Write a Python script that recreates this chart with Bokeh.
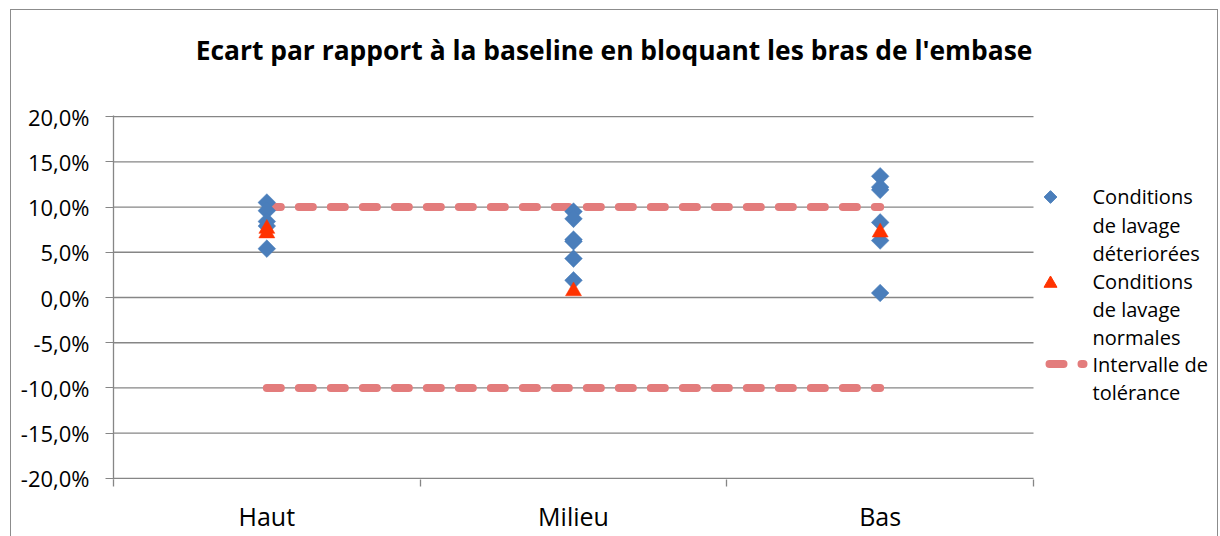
from bokeh.plotting import figure
from bokeh.layouts import column
from bokeh.models import Range1d, FixedTicker, ColumnDataSource, Div
from bokeh.core.properties import value
from bokeh.embed import file_html
from bokeh.resources import INLINE

# ---------------- data ----------------
categories = ["Haut", "Milieu", "Bas"]

deteriorees_cat = ["Haut"] * 5 + ["Milieu"] * 6 + ["Bas"] * 6
deteriorees_val = [10.5, 9.6, 8.4, 7.9, 5.4,
                   9.5, 8.7, 6.4, 6.2, 4.3, 1.9,
                   13.4, 12.2, 11.9, 8.3, 6.3, 0.5]

normales_cat = ["Haut", "Haut", "Milieu", "Bas"]
normales_val = [7.6, 7.1, 0.7, 7.2]

tolerance_cat = ["Haut", "Bas"]
tolerance_haute = [10.0, 10.0]
tolerance_basse = [-10.0, -10.0]

y_ticks = [-20, -15, -10, -5, 0, 5, 10, 15, 20]
y_tick_labels = ["-20,0%", "-15,0%", "-10,0%", "-5,0%", "0,0%", "5,0%", "10,0%", "15,0%", "20,0%"]

legend_lines = [["Conditions", "de lavage", "déteriorées"],
                ["Conditions", "de lavage", "normales"],
                ["Intervalle de", "tolérance"]]

title_text = "Ecart par rapport à la baseline en bloquant les bras de l'embase"

# ---------------- layout helpers ----------------
OFF_X, OFF_Y = 11, 10     # page position of the chart content (inside the border)
TITLE_H = 80              # height of the title strip
W = 1206
H = 526 - TITLE_H
FIG_TOP_PAGE = OFF_Y + TITLE_H
FRAME_LEFT_PAGE = 113
FRAME_W = 1097
UNIT = 920 / 3.0          # px per category
Y0, Y1 = -20.12, 20.12
FRAME_H = 364
FRAME_TOP_PAGE = 115
PX_PER_PCT = FRAME_H / (Y1 - Y0)

def dx(px):
    return 0.5 + (px - FRAME_LEFT_PAGE) / UNIT

def dy(py):
    return Y1 - (py - FRAME_TOP_PAGE) / PX_PER_PCT

pos = {c: i + 1 for i, c in enumerate(categories)}

p = figure(width=W, height=H, output_backend="svg", toolbar_location=None,
           x_range=Range1d(0.5, 0.5 + FRAME_W / UNIT), y_range=Range1d(Y0, Y1),
           min_border_left=FRAME_LEFT_PAGE - OFF_X, min_border_top=FRAME_TOP_PAGE - FIG_TOP_PAGE,
           min_border_right=W - (FRAME_LEFT_PAGE - OFF_X) - FRAME_W,
           min_border_bottom=H - (FRAME_TOP_PAGE - FIG_TOP_PAGE) - FRAME_H,
           frame_width=FRAME_W, frame_height=FRAME_H,
           background_fill_color="white", border_fill_color="white")
p.outline_line_color = None
p.xgrid.visible = False
p.ygrid.visible = False

GRID = "#868686"

# gridlines (only over the plotting area)
grid_y = [t for t in y_ticks if t > y_ticks[0]]
p.segment(x0=[0.5] * len(grid_y), x1=[3.5] * len(grid_y), y0=grid_y, y1=grid_y,
          line_color=GRID, line_width=1.3)
# x baseline
p.segment(x0=[0.5], x1=[3.5], y0=[y_ticks[0]], y1=[y_ticks[0]], line_color=GRID, line_width=1.3)

# y axis
yax = p.yaxis[0]
yax.ticker = FixedTicker(ticks=y_ticks)
yax.major_label_overrides = {t: l for t, l in zip(y_ticks, y_tick_labels)}
yax.axis_line_color = GRID
yax.axis_line_width = 1.3
yax.major_tick_line_color = GRID
yax.major_tick_out = 8
yax.major_tick_in = 0
yax.minor_tick_line_color = None
yax.major_label_standoff = 16
yax.major_label_text_font = "Open Sans"
yax.major_label_text_font_size = "22px"
yax.major_label_text_color = "black"

# x axis
xax = p.xaxis[0]
xax.ticker = FixedTicker(ticks=[pos[c] for c in categories], minor_ticks=[0.5, 1.5, 2.5, 3.5])
xax.major_label_overrides = {pos[c]: c for c in categories}
xax.axis_line_color = None
xax.major_tick_line_color = None
xax.major_tick_out = 0
xax.major_tick_in = 0
xax.minor_tick_line_color = GRID
xax.minor_tick_line_width = 1.3
xax.minor_tick_out = 7
xax.minor_tick_in = 0
xax.major_label_standoff = 12
xax.major_label_text_font = "Open Sans"
xax.major_label_text_font_size = "25px"
xax.major_label_text_color = "black"

TOL = "#E37C7C"
DASH = "14 18"
# tolerance lines
for vals in (tolerance_haute, tolerance_basse):
    p.line(x=[pos[c] for c in tolerance_cat], y=vals, line_color=TOL, line_width=8,
           line_dash=DASH, line_cap="round")

BLUE = "#4A7EBB"
RED = "#FF3300"
src_d = ColumnDataSource(dict(x=[pos[c] for c in deteriorees_cat], y=deteriorees_val))
p.scatter(x="x", y="y", source=src_d, marker="square", angle=0.785398, size=12.5,
          fill_color=BLUE, line_color=BLUE, line_width=0.5)
src_n = ColumnDataSource(dict(x=[pos[c] for c in normales_cat], y=normales_val))
p.scatter(x="x", y="y", source=src_n, marker="triangle", size=16,
          fill_color=RED, line_color=RED, line_width=0.5)

# ---------------- legend (drawn manually) ----------------
p.scatter(x=[dx(1050)], y=[dy(196.5)], marker="square", angle=0.785398, size=9,
          fill_color=BLUE, line_color=BLUE)
p.scatter(x=[dx(1050)], y=[dy(283)], marker="triangle", size=13,
          fill_color=RED, line_color=RED)
p.line(x=[dx(1034), dx(1083)], y=[dy(363.5), dy(363.5)], line_color=TOL, line_width=8,
       line_dash=DASH, line_dash_offset=17, line_cap="round")

leg_y_px = [196, 224.5, 253, 280.5, 308.5, 337, 363.5, 392]
leg_texts = [t for group in legend_lines for t in group]
p.text(x=[dx(1092)] * len(leg_texts), y=[dy(v) for v in leg_y_px], text=leg_texts,
       text_font=value("Open Sans"), text_font_size="20px", text_color="black",
       text_align="left", text_baseline="middle")

# ---------------- title ----------------
title_div = Div(text=title_text, width=W, height=TITLE_H, margin=(0, 0, 0, 0),
                styles={"font-family": "'Open Sans'", "font-weight": "bold",
                        "font-size": "26.4px", "color": "black", "text-align": "center",
                        "line-height": "%dpx" % (2 * (50 - OFF_Y)),
                        "background-color": "white"})

layout = column(title_div, p, spacing=0,
                styles={"border": "1.3px solid #8c8c8c",
                        "margin-left": "%dpx" % (OFF_X - 1),
                        "margin-top": "%dpx" % (OFF_Y - 1),
                        "background-color": "white"})

open("out.html", "w").write(file_html(layout, INLINE))
